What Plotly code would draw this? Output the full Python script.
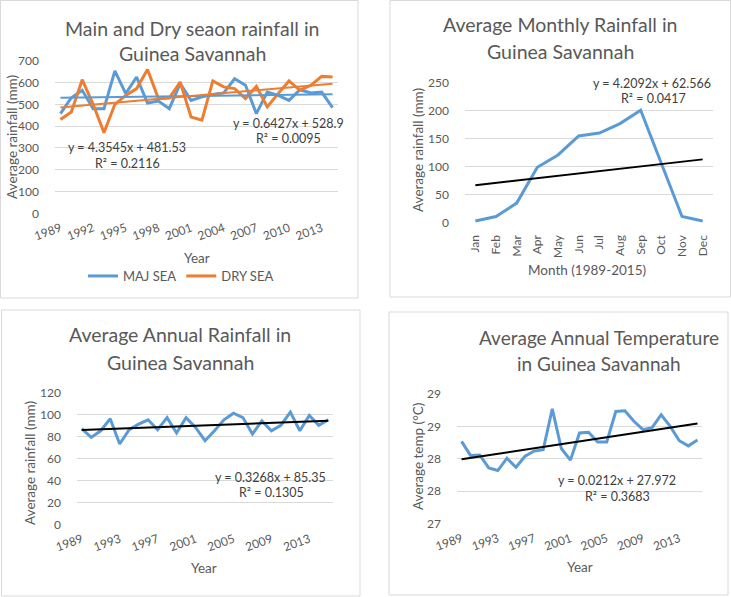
import plotly.graph_objects as go

W, H = 731, 597

# ---------------- data ----------------
years_season = list(range(1989, 2015))
maj_sea = [457, 530, 564, 480, 480, 653, 549, 625, 506, 515, 480, 595, 518,
           534, 545, 552, 617, 587, 457, 556, 541, 518, 567, 552, 556, 485]
dry_sea = [430, 465, 613, 500, 370, 500, 541, 572, 660, 526, 529, 602, 442,
           427, 607, 580, 572, 526, 582, 488, 549, 607, 564, 587, 628, 625]
maj_trend = (0.6427, 528.9)
dry_trend = (4.3545, 481.53)
season_ticks = [1989, 1992, 1995, 1998, 2001, 2004, 2007, 2010, 2013]

months = ["Jan", "Feb", "Mar", "Apr", "May", "Jun", "Jul", "Aug", "Sep", "Oct", "Nov", "Dec"]
monthly_rain = [3, 11, 35, 99, 121, 155, 160, 177, 201, 105, 11, 3]
monthly_trend = (4.2092, 62.566)

years_annual = list(range(1989, 2016))
annual_rain = [87, 79, 85, 96, 73, 86, 91, 95, 86, 97, 83, 97, 88, 76,
               85, 95, 101, 97, 82, 94, 85, 90, 102, 85, 99, 90, 95]
annual_trend = (0.3268, 85.35)
annual_ticks = [1989, 1993, 1997, 2001, 2005, 2009, 2013]

annual_temp = [28.27, 28.05, 28.06, 27.86, 27.82, 28.01, 27.87, 28.04, 28.12, 28.14,
               28.77, 28.16, 27.98, 28.40, 28.41, 28.26, 28.26, 28.73, 28.74, 28.58,
               28.45, 28.48, 28.68, 28.50, 28.28, 28.20, 28.29]
temp_trend = (0.0212, 27.972)
temp_tickvals = [27, 27.5, 28, 28.5, 29]
temp_ticktext = ["27", "28", "28", "29", "29"]

# ---------------- style ----------------
BLUE = "#5B9BD5"
ORANGE = "#ED7D31"
GRID = "#D9D9D9"
TXT = "#595959"
EQ = "#404040"
FONT = "Lato"


def px(x):
    return x / W


def py(y):
    return 1 - y / H


def trend(coef, n):
    s, b = coef
    return [s * (i + 1) + b for i in range(n)]


fig = go.Figure()

# Panel 1
fig.add_trace(go.Scatter(x=years_season, y=maj_sea, mode="lines", name="MAJ SEA",
                         line=dict(color=BLUE, width=3), xaxis="x", yaxis="y"))
fig.add_trace(go.Scatter(x=years_season, y=dry_sea, mode="lines", name="DRY SEA",
                         line=dict(color=ORANGE, width=3), xaxis="x", yaxis="y"))
fig.add_trace(go.Scatter(x=years_season, y=trend(maj_trend, len(years_season)), mode="lines",
                         line=dict(color=BLUE, width=2), showlegend=False, xaxis="x", yaxis="y"))
fig.add_trace(go.Scatter(x=years_season, y=trend(dry_trend, len(years_season)), mode="lines",
                         line=dict(color=ORANGE, width=2), showlegend=False, xaxis="x", yaxis="y"))

# Panel 2
fig.add_trace(go.Scatter(x=months, y=monthly_rain, mode="lines", line=dict(color=BLUE, width=3),
                         showlegend=False, xaxis="x2", yaxis="y2"))
fig.add_trace(go.Scatter(x=months, y=trend(monthly_trend, len(months)), mode="lines",
                         line=dict(color="black", width=2), showlegend=False, xaxis="x2", yaxis="y2"))

# Panel 3
fig.add_trace(go.Scatter(x=years_annual, y=annual_rain, mode="lines", line=dict(color=BLUE, width=3),
                         showlegend=False, xaxis="x3", yaxis="y3"))
fig.add_trace(go.Scatter(x=years_annual, y=trend(annual_trend, len(years_annual)), mode="lines",
                         line=dict(color="black", width=2), showlegend=False, xaxis="x3", yaxis="y3"))

# Panel 4
fig.add_trace(go.Scatter(x=years_annual, y=annual_temp, mode="lines", line=dict(color=BLUE, width=3),
                         showlegend=False, xaxis="x4", yaxis="y4"))
fig.add_trace(go.Scatter(x=years_annual, y=trend(temp_trend, len(years_annual)), mode="lines",
                         line=dict(color="black", width=2), showlegend=False, xaxis="x4", yaxis="y4"))

tickfont = dict(family=FONT, size=12, color=TXT)


def xax(dom, anchor, **kw):
    d = dict(domain=[px(dom[0]), px(dom[1])], anchor=anchor, showgrid=False, zeroline=False,
             showline=False, ticks="", tickfont=tickfont, fixedrange=True, automargin=False,
             ticklabelstandoff=5)
    d.update(kw)
    return d


def yax(dom, anchor, **kw):
    d = dict(domain=[py(dom[1]), py(dom[0])], anchor=anchor, showgrid=True, gridcolor=GRID,
             gridwidth=1, zeroline=False, showline=False, ticks="", tickfont=tickfont,
             ticklabelstandoff=15, fixedrange=True, automargin=False)
    d.update(kw)
    return d


fig.update_layout(
    template="none",
    width=W, height=H, autosize=False,
    margin=dict(l=0, r=0, t=0, b=0, pad=0, autoexpand=False),
    paper_bgcolor="white", plot_bgcolor="white",
    font=dict(family=FONT, color=TXT),
    xaxis=xax((55, 338), "y", range=[1988.5, 2014.5], tickvals=season_ticks, tickangle=-20),
    yaxis=yax((60.7, 213.3), "x", range=[0, 700], dtick=100),
    xaxis2=xax((465, 713), "y2", type="category", range=[-0.5, 11.5], tickangle=-90,
               ticklabelstandoff=9),
    yaxis2=yax((82.7, 222.7), "x2", range=[0, 250], dtick=50),
    xaxis3=xax((77, 333), "y3", range=[1988.5, 2015.5], tickvals=annual_ticks, tickangle=-20),
    yaxis3=yax((392.3, 524.3), "x3", range=[0, 120], dtick=20),
    xaxis4=xax((457, 702), "y4", range=[1988.5, 2015.5], tickvals=annual_ticks, tickangle=-20),
    yaxis4=yax((394, 523.7), "x4", range=[27, 29], tickvals=temp_tickvals, ticktext=temp_ticktext),
    legend=dict(orientation="h", x=px(181), xanchor="center", y=py(276), yanchor="middle",
                font=dict(family=FONT, size=13, color=TXT), bgcolor="rgba(0,0,0,0)",
                borderwidth=0),
    showlegend=True,
)

# panel borders
for (x0, y0, x1, y1) in [(0.5, 0.5, 358, 298), (390, 0.5, 730.5, 297),
                         (1.5, 310, 360, 596), (389, 312, 728, 595)]:
    fig.add_shape(type="rect", xref="paper", yref="paper", x0=px(x0), x1=px(x1),
                  y0=py(y1), y1=py(y0), line=dict(color=GRID, width=1), layer="below")

ann = []


def text(x, y, s, size, color=TXT, angle=0):
    ann.append(dict(x=px(x), y=py(y), xref="paper", yref="paper", text=s, showarrow=False,
                    xanchor="center", yanchor="middle", textangle=angle,
                    font=dict(family=FONT, size=size, color=color)))


# titles
text(192, 28, "Main and Dry seaon rainfall in", 19.5)
text(192, 53, "Guinea Savannah", 19.5)
text(560, 25, "Average Monthly Rainfall in", 19.5)
text(560, 52, "Guinea Savannah", 19.5)
text(180, 335, "Average Annual Rainfall in", 19.5)
text(180, 362, "Guinea Savannah", 19.5)
text(599, 337, "Average Annual Temperature", 19)
text(599, 363, "in Guinea Savannah", 19)

# axis titles
text(12, 137, "Average rainfall (mm)", 13.5, angle=-90)
text(418, 150, "Average rainfall (mm)", 13.5, angle=-90)
text(30, 463, "Average rainfall (mm)", 13.5, angle=-90)
text(418, 457, "Average temp (°C)", 13.5, angle=-90)
text(197, 258, "Year", 13.5)
text(587, 270, "Month (1989-2015)", 13.5)
text(204, 568, "Year", 13.5)
text(580, 567, "Year", 13.5)

# trend equations
text(127, 147, "y = 4.3545x + 481.53", 12.5, EQ)
text(127, 163, "R² = 0.2116", 12.5, EQ)
text(288, 123, "y = 0.6427x + 528.9", 12.5, EQ)
text(288, 138, "R² = 0.0095", 12.5, EQ)
text(652, 83, "y = 4.2092x + 62.566", 12.5, EQ)
text(653, 99, "R² = 0.0417", 12.5, EQ)
text(270, 477, "y = 0.3268x + 85.35", 12.5, EQ)
text(271, 493, "R² = 0.1305", 12.5, EQ)
text(617, 480, "y = 0.0212x + 27.972", 12.5, EQ)
text(617, 496, "R² = 0.3683", 12.5, EQ)

fig.update_layout(annotations=ann)
fig.write_html(
    "out.html",
    config=dict(displayModeBar=False, staticPlot=True),
    post_script="document.body.style.margin='0';document.body.style.overflow='hidden';",
)
